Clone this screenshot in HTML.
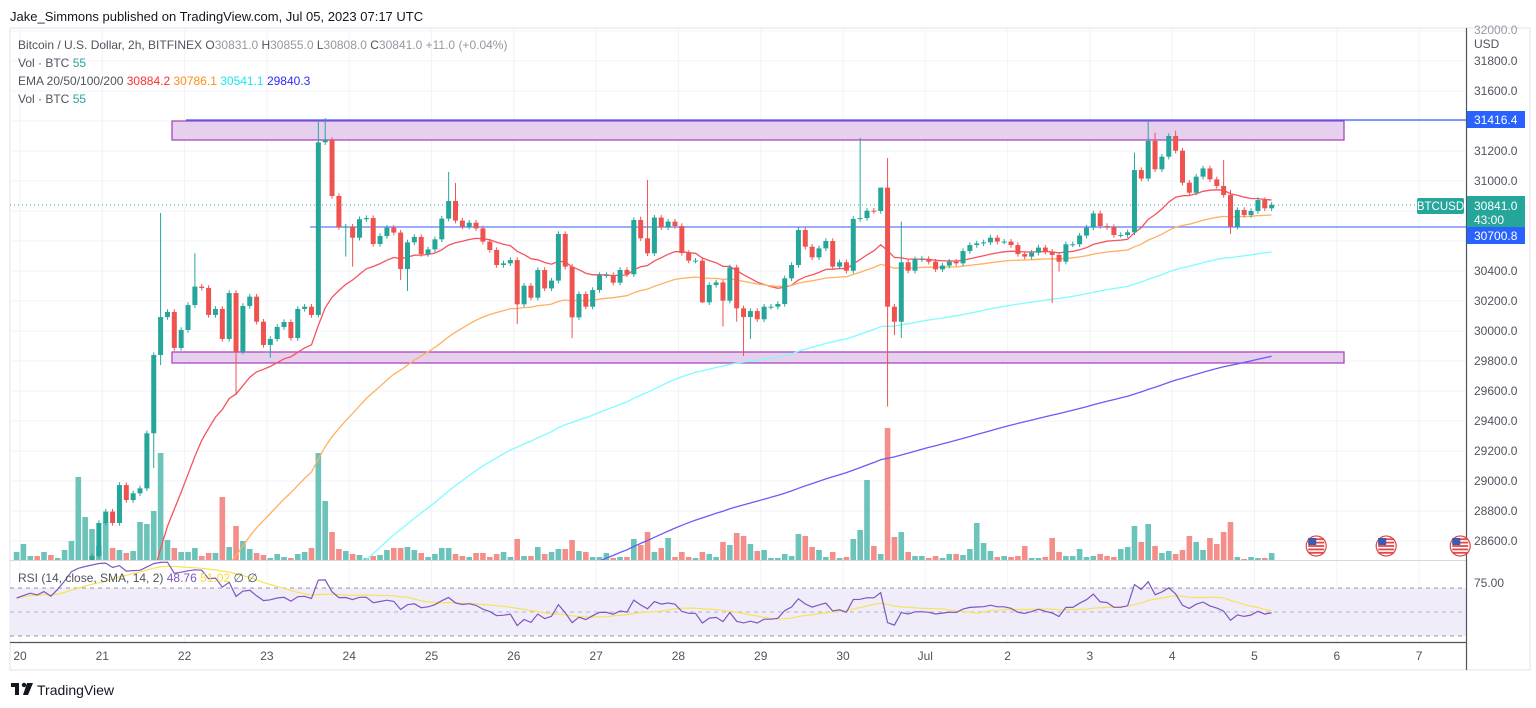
<!DOCTYPE html>
<html><head><meta charset="utf-8"><style>
html,body{margin:0;padding:0;background:#fff;overflow:hidden;width:1536px;height:708px;}
svg{display:block;font-family:"Liberation Sans",Arial,sans-serif;}
</style></head><body>
<svg id="chart" width="1536" height="708" viewBox="0 0 1536 708" xmlns="http://www.w3.org/2000/svg">
<rect x="0" y="0" width="1536" height="708" fill="#fff"/>
<text x="10" y="21" font-size="13" fill="#131722">Jake_Simmons published on TradingView.com, Jul 05, 2023 07:17 UTC</text>
<g id="grid"></g>
<rect x="10" y="28" width="1520" height="642" fill="none" stroke="#e0e3eb" stroke-width="1"/>
<clipPath id="pclip"><rect x="10" y="28" width="1456" height="532"/></clipPath>
<clipPath id="rclip"><rect x="10" y="561" width="1456" height="81"/></clipPath>
<rect x="172" y="121" width="1172" height="19" fill="#e6d0ee" stroke="#ab47bc" stroke-width="1.3"/>
<rect x="172" y="352" width="1172" height="11" fill="#e6d0ee" stroke="#ab47bc" stroke-width="1.3"/>
<line x1="186" y1="120" x2="1466" y2="120" stroke="#3d5afe" stroke-width="1.2"/>
<line x1="310" y1="227" x2="1466" y2="227" stroke="#5c7cfa" stroke-width="1.2"/>
<line x1="10" y1="205" x2="1466" y2="205" stroke="#26a69a" stroke-width="1" stroke-dasharray="1,3"/>
<g id="vol" clip-path="url(#pclip)"></g>
<g id="emas" clip-path="url(#pclip)"></g>
<g id="candles" clip-path="url(#pclip)"></g>
<line x1="10" y1="560.5" x2="1466" y2="560.5" stroke="#d6d8de" stroke-width="1"/>
<rect x="10" y="588" width="1456" height="48" fill="#f0ecfa"/>
<line x1="10" y1="588" x2="1466" y2="588" stroke="#9598a1" stroke-dasharray="4,4"/>
<line x1="10" y1="612" x2="1466" y2="612" stroke="#b2b5be" stroke-dasharray="4,4"/>
<line x1="10" y1="636" x2="1466" y2="636" stroke="#9598a1" stroke-dasharray="4,4"/>
<g id="rsi" clip-path="url(#rclip)"></g>
<text x="18" y="582" font-size="12" fill="#50535e">RSI (14, close, SMA, 14, 2) <tspan fill="#7e57c2">48.76</tspan> <tspan fill="#f5dc3c">51.02</tspan>  <tspan fill="#50535e">∅  ∅</tspan></text>
<line x1="10" y1="642.5" x2="1466" y2="642.5" stroke="#50535e" stroke-width="1.2"/>
<line x1="1466.5" y1="28" x2="1466.5" y2="670" stroke="#50535e" stroke-width="1.2"/>
<g id="yaxis"></g>
<g id="xaxis"></g>
<g font-size="12">
<text x="18" y="49" fill="#50535e">Bitcoin / U.S. Dollar, 2h, BITFINEX  O<tspan fill="#9598a1">30831.0</tspan>  H<tspan fill="#9598a1">30855.0</tspan>  L<tspan fill="#9598a1">30808.0</tspan>  C<tspan fill="#9598a1">30841.0  +11.0 (+0.04%)</tspan></text>
<text x="18" y="67" fill="#50535e">Vol · BTC  <tspan fill="#26a69a">55</tspan></text>
<text x="18" y="85" fill="#50535e">EMA 20/50/100/200  <tspan fill="#ff2d2d">30884.2</tspan>  <tspan fill="#ff8c1a">30786.1</tspan>  <tspan fill="#18e7f0">30541.1</tspan>  <tspan fill="#2b2bff">29840.3</tspan></text>
<text x="18" y="103" fill="#50535e">Vol · BTC  <tspan fill="#26a69a">55</tspan></text>
</g>
<rect x="1417" y="198" width="47" height="16" rx="2" fill="#26a69a"/>
<text x="1440.5" y="210" font-size="11.5" fill="#fff" text-anchor="middle">BTCUSD</text>
<rect x="1467" y="196" width="58" height="31" fill="#26a69a"/>
<text x="1474" y="210" font-size="12" fill="#fff">30841.0</text>
<text x="1474" y="224" font-size="12" fill="#fff">43:00</text>
<rect x="1467" y="227" width="58" height="17" fill="#2962ff"/>
<text x="1474" y="240" font-size="12" fill="#fff">30700.8</text>
<rect x="1467" y="111" width="58" height="17" fill="#2962ff"/>
<text x="1474" y="124" font-size="12" fill="#fff">31416.4</text>
<g id="flags"></g>
<g>
<rect x="11" y="683" width="8" height="4" fill="#131722"/><rect x="15" y="683" width="4" height="12" fill="#131722"/>
<circle cx="24" cy="685" r="2.2" fill="#131722"/><polygon points="27,683 33,683 28,695 23,695" fill="#131722"/>
<text x="37" y="695" font-size="14" fill="#131722">TradingView</text>
</g>
<script>
const startIndex = -1;
const closes = [26800,26850,26900,26880,26950,26900,27050,27300,27800,28100,28300,28500,28720,
28796,28720,28973,28873,28918,28951,29318,29840,30093,30127,29887,30007,30173,30296,30287,30107,30147,29947,30253,29862,30167,30229,30062,29907,29947,
30027,30060,29953,30147,30162,30107,31258,31273,30900,30693,30696,30622,30745,30753,30580,30633,30689,30656,30413,30591,30627,30513,30544,30611,30749,30867,30736,30696,30722,30684,30596,30540,30440,30451,30473,30178,30302,
30222,30407,30284,30336,30647,30429,30091,30247,30162,30273,30373,30373,30322,30407,30378,30740,30618,30518,30756,30691,30729,30700,30520,30469,30469,30191,30307,30324,30202,30424,30151,30093,30133,30078,30162,30162,30180,
30351,30440,30673,30562,30491,30551,30600,30429,30458,30402,30747,30753,30802,30800,30956,30162,30062,30458,30402,30478,30480,30462,30411,30436,30462,30451,30533,30573,30584,30591,30622,30596,30596,30573,30513,30496,
30522,30556,30529,30507,30462,30578,30578,30636,30689,30784,30700,30693,30640,30640,30658,31073,31016,31267,31078,31162,31300,31202,30989,30922,31029,31084,31011,30967,30907,30696,30807,30773,30800,30873,30818,30841];
const volumes = [8,16,4,4,8,5,2,10,19,83,43,31,14,
38,12,10,7,9,38,36,49,107,20,
12,8,8,12,4,7,7,63,13,34,19,11,7,5,2,
6,3,2,6,8,12,107,59,28,11,9,6,5,2,4,5,10,12,12,13,10,7,3,6,12,12,6,4,3,7,7,3,6,8,3,21,4,
4,13,6,8,11,11,20,9,8,3,3,7,2,3,3,21,15,28,8,12,22,3,8,3,2,8,6,3,18,15,27,24,16,9,10,2,2,
6,4,26,24,13,10,3,8,2,3,21,30,80,14,6,132,23,28,8,4,4,2,4,2,6,6,5,11,37,17,9,3,4,3,4,14,
2,2,3,22,8,4,4,11,3,4,6,4,3,11,13,34,18,36,14,7,9,6,10,24,18,10,22,16,28,38,3,1,3,2,2,7];
const highWickT = [20,25,43,44,62,63,90,91,122,125,126,128,162,164,165,168,175,176];
const highWickP = [30787,30518,31400,31420,31060,30987,30762,31007,31287,30880,31153,30729,31189,31402,31322,31336,31140,30940];
const lowWickT = [19,20,31,36,47,48,55,56,72,80,99,102,104,105,106,126,127,128,150,151,176];
const lowWickP = [29087,29773,29573,29822,30496,30429,30340,30267,30047,29953,30187,30029,30062,29833,29947,29496,29973,29953,30187,30396,30647];
const emaPeriods = [20,50,100,200];
const emaSeeds = [26900,26500,26200,26350];
const emaColors = ['#f7525f','#ffb060','#7ffcff','#6a5cf5'];
const rsiSeed = [45,28];
const priceTicks = [31800,31600,31200,31000,30400,30200,30000,29800,29600,29400,29200,29000,28800,28600];
const dayLabels = ['20','21','22','23','24','25','26','27','28','29','30','Jul','2','3','4','5','6','7'];
const flagDays = [15.75,16.6,17.5];

const NS='http://www.w3.org/2000/svg';
const yP = p => 31 + (32000 - p) * 0.15;
const dayW = 82.3;
const xT = t => 20 + (t + 0.5) * dayW / 12;
const xDay = d => 20 + d * dayW;
const yV = v => 560 - v;
const yR = r => 612 - (r - 50) * 1.2;
function mk(tag, attrs, parent){const e=document.createElementNS(NS,tag);for(const k in attrs)e.setAttribute(k,attrs[k]);parent.appendChild(e);return e;}

const opens = closes.map((c,i)=> i===0 ? c-40 : closes[i-1]);
const highs = closes.map((c,i)=>Math.max(c,opens[i])+18);
const lows = closes.map((c,i)=>Math.min(c,opens[i])-18);
highWickT.forEach((t,k)=>{highs[t-startIndex]=highWickP[k];});
lowWickT.forEach((t,k)=>{lows[t-startIndex]=lowWickP[k];});

const grid=document.getElementById('grid');
for(let p=28600;p<=32000;p+=200){const g=mk('line',{x1:10,x2:1466,y1:yP(p),y2:yP(p),stroke:'#f0f3fa','stroke-width':1},grid);

}
dayLabels.forEach((d,i)=>{const g=mk('line',{x1:xDay(i),x2:xDay(i),y1:28,y2:642,stroke:'#f0f3fa','stroke-width':1},grid);

});

const vg=document.getElementById('vol');
closes.forEach((c,i)=>{const t=i+startIndex;const up=c>=opens[i];
const r=mk('rect',{x:xT(t)-2.8,y:yV(volumes[i]),width:5.6,height:volumes[i],fill:up?'#6cc3b9':'#f48e8a'},vg);

});

const eg=document.getElementById('emas');
emaPeriods.forEach((per,k)=>{const a=2/(per+1);let e=emaSeeds[k];const pts=[];
closes.forEach((c,i)=>{e=e+a*(c-e);pts.push(xT(i+startIndex).toFixed(1)+','+yP(e).toFixed(1));});
const pl=mk('polyline',{points:pts.join(' '),fill:'none',stroke:emaColors[k],'stroke-width':1.3},eg);

});

const cg=document.getElementById('candles');
closes.forEach((c,i)=>{const t=i+startIndex;const o=opens[i];const up=c>=o;const col=up?'#26a69a':'#ef5350';const x=xT(t);
const w=mk('line',{x1:x,x2:x,y1:yP(highs[i]),y2:yP(lows[i]),stroke:col,'stroke-width':1},cg);


const top=yP(Math.max(o,c));const h=Math.max(1,yP(Math.min(o,c))-top);
const b=mk('rect',{x:x-2.5,y:top,width:5,height:h,fill:col},cg);

});

let ag=rsiSeed[0],al=rsiSeed[1];const rsi=[];
closes.forEach((c,i)=>{const d=i===0?0:c-closes[i-1];ag=(ag*13+Math.max(d,0))/14;al=(al*13+Math.max(-d,0))/14;rsi.push(100-100/(1+ag/al));});
const sma=rsi.map((r,i)=>{const s=rsi.slice(Math.max(0,i-13),i+1);return s.reduce((a,b)=>a+b,0)/s.length;});
const rg=document.getElementById('rsi');
const sl=mk('polyline',{points:sma.map((r,i)=>xT(i+startIndex).toFixed(1)+','+yR(r).toFixed(1)).join(' '),fill:'none',stroke:'#f7e35a','stroke-width':1.2},rg);


const rl=mk('polyline',{points:rsi.map((r,i)=>xT(i+startIndex).toFixed(1)+','+yR(r).toFixed(1)).join(' '),fill:'none',stroke:'#7e57c2','stroke-width':1.2},rg);



const ya=document.getElementById('yaxis');
const t0=mk('text',{x:1474,y:34,'font-size':12,fill:'#9598a1'},ya);t0.textContent='32000.0';


const usd=mk('text',{x:1474,y:48,'font-size':12,fill:'#50535e'},ya);usd.textContent='USD';


priceTicks.forEach(p=>{const tx=mk('text',{x:1474,y:yP(p)+4,'font-size':12,fill:'#50535e'},ya);tx.textContent=p.toFixed(1);

});
const ra=mk('text',{x:1474,y:587,'font-size':12,fill:'#50535e'},ya);ra.textContent='75.00';


const xa=document.getElementById('xaxis');
dayLabels.forEach((d,i)=>{const tx=mk('text',{x:xDay(i),y:660,'font-size':12,fill:'#50535e','text-anchor':'middle'},xa);tx.textContent=d;

});

const fg=document.getElementById('flags');
flagDays.forEach(d=>{const cx=xDay(d),cy=546;const g=mk('g',{},fg);


mk('circle',{cx:cx,cy:cy,r:10,fill:'#fff',stroke:'#e04848','stroke-width':1.2},g);
for(let k=-2;k<=2;k++){mk('rect',{x:cx-8,y:cy+k*3.4-0.9,width:16,height:1.8,fill:'#e04848'},g);}
mk('rect',{x:cx-8,y:cy-8,width:8,height:7,fill:'#3b5bb5'},g);});
</script>
</svg>
</body></html>
